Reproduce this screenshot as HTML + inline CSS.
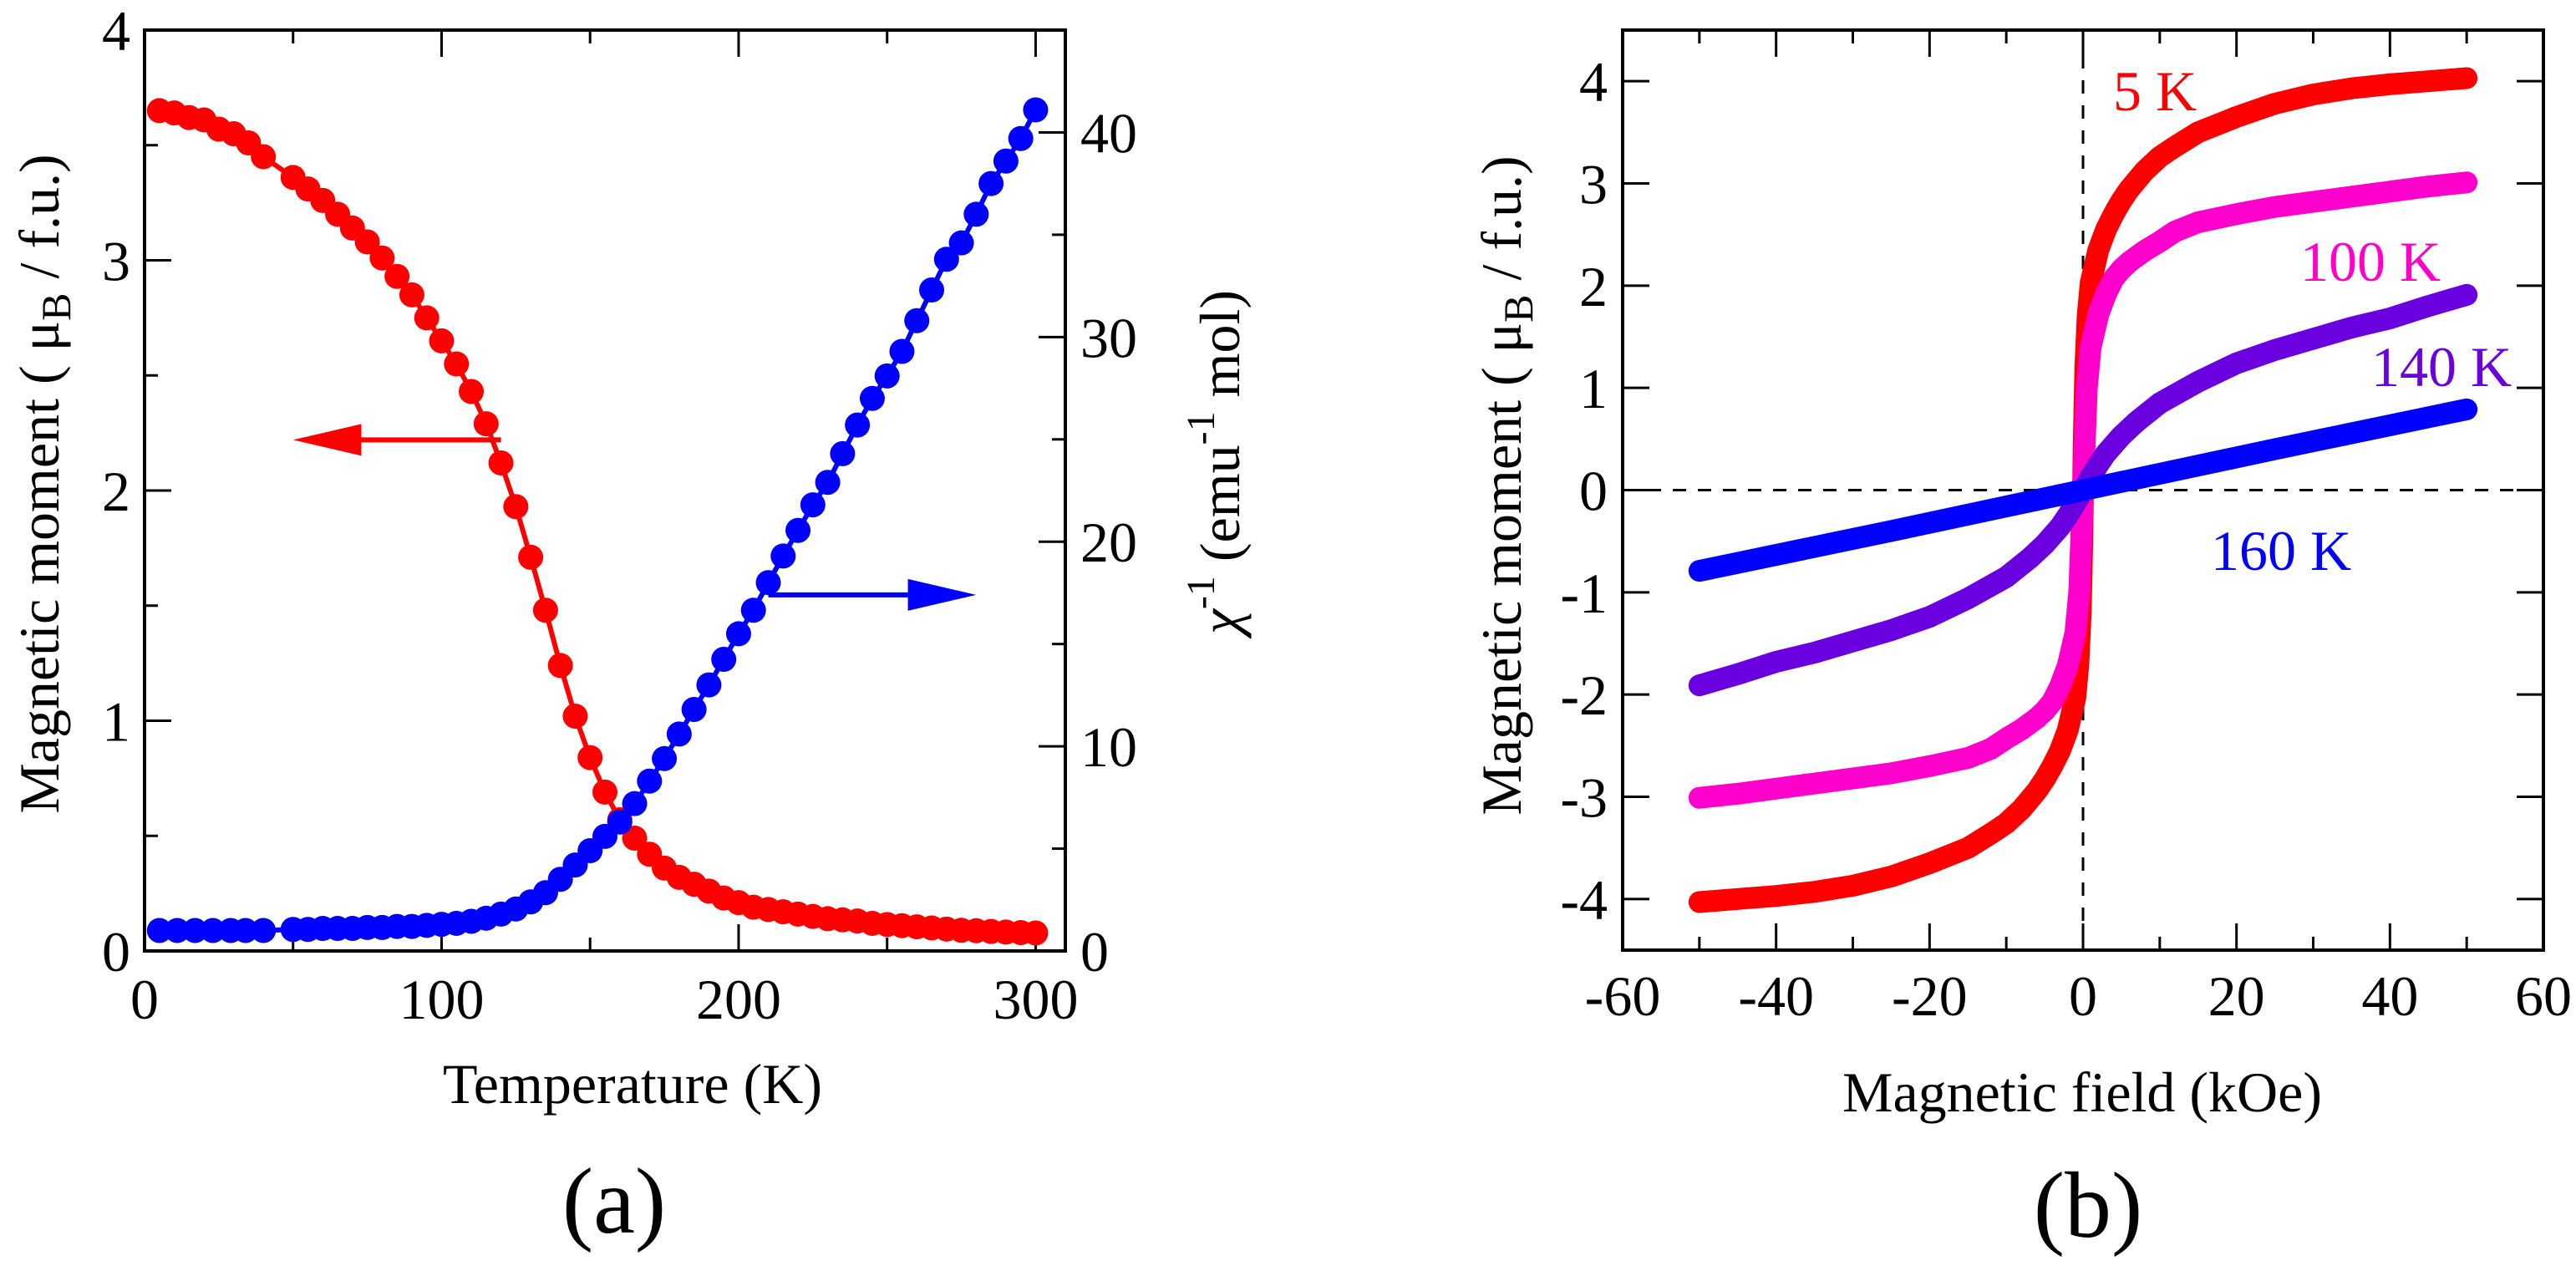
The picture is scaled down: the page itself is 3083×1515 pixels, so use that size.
<!DOCTYPE html>
<html><head><meta charset="utf-8"><style>
html,body{margin:0;padding:0;background:#fff}
svg{display:block}
svg text{font-family:"Liberation Serif","Times New Roman",serif}
</style></head><body>
<svg id="fig" width="3083" height="1515" viewBox="0 0 3083 1515" xmlns="http://www.w3.org/2000/svg" font-family="Liberation Serif, Times New Roman, serif">
<g id="pa"></g>
<g id="pb"></g>
</svg>
<script>
// ---------- Panel (a) data ----------
const tRed = [5,10,15,20,25,30,35,40,50,55,60,65,70,75,80,85,90,95,100,105,110,115,120,125,130,135,140,145,150,155,160,165,170,175,180,185,190,195,200,205,210,215,220,225,230,235,240,245,250,255,260,265,270,275,280,285,290,295,300];
const mRed = [3.65,3.64,3.62,3.61,3.57,3.55,3.51,3.45,3.36,3.31,3.26,3.20,3.14,3.08,3.01,2.93,2.85,2.75,2.65,2.55,2.43,2.29,2.12,1.93,1.71,1.48,1.24,1.02,0.84,0.69,0.57,0.49,0.42,0.36,0.32,0.29,0.26,0.23,0.21,0.19,0.18,0.17,0.16,0.15,0.14,0.135,0.13,0.12,0.115,0.11,0.105,0.10,0.095,0.09,0.088,0.085,0.082,0.08,0.078];
const tBlue = [5,11,17,23,29,34,40,50,55,60,65,70,75,80,85,90,95,100,105,110,115,120,125,130,135,140,145,150,155,160,165,170,175,180,185,190,195,200,205,210,215,220,225,230,235,240,245,250,255,260,265,270,275,280,285,290,295,300];
const chiBlue = [1.0,1.0,1.0,1.0,1.0,1.0,1.0,1.05,1.05,1.1,1.1,1.1,1.15,1.15,1.2,1.2,1.25,1.3,1.35,1.45,1.6,1.8,2.05,2.4,2.85,3.5,4.2,4.9,5.6,6.3,7.2,8.3,9.4,10.6,11.8,13.0,14.25,15.5,16.65,18.0,19.3,20.55,21.8,22.9,24.3,25.7,27.0,28.1,29.3,30.8,32.3,33.8,34.6,36.0,37.5,38.6,39.7,41.1];
const aXTicks = [0,100,200,300];
const aYTicks = [0,1,2,3,4];
const aY2Ticks = [0,10,20,30,40];

// ---------- Panel (b) data ----------
const h5 = [-50,-45,-40,-35,-30,-25,-20,-15,-12,-10,-8,-6,-5,-4,-3,-2,-1,-0.6,-0.3,-0.1,0,0.1,0.3,0.6,1,2,3,4,5,6,8,10,12,15,20,25,30,35,40,45,50];
const m5 = [-4.03,-4.0,-3.97,-3.93,-3.87,-3.78,-3.65,-3.5,-3.36,-3.26,-3.12,-2.94,-2.83,-2.7,-2.55,-2.35,-2.03,-1.7,-1.2,-0.5,0,0.5,1.2,1.7,2.03,2.35,2.55,2.7,2.83,2.94,3.12,3.26,3.36,3.5,3.65,3.78,3.87,3.93,3.97,4.0,4.03];
const h100 = [-50,-45,-40,-35,-30,-25,-20,-15,-12,-10,-8,-6,-5,-4,-3,-2,-1,-0.5,-0.2,0,0.2,0.5,1,2,3,4,5,6,8,10,12,15,20,25,30,35,40,45,50];
const m100 = [-3.01,-2.97,-2.92,-2.87,-2.82,-2.77,-2.70,-2.62,-2.53,-2.43,-2.34,-2.23,-2.16,-2.07,-1.92,-1.72,-1.4,-1.0,-0.4,0,0.4,1.0,1.4,1.72,1.92,2.07,2.16,2.23,2.34,2.43,2.53,2.62,2.70,2.77,2.82,2.87,2.92,2.97,3.01];
const h140 = [-50,-45,-40,-35,-30,-25,-20,-15,-10,-7,-5,-3,-2,-1,0,1,2,3,5,7,10,15,20,25,30,35,40,45,50];
const m140 = [-1.91,-1.80,-1.68,-1.59,-1.48,-1.37,-1.24,-1.06,-0.85,-0.67,-0.53,-0.36,-0.25,-0.13,0,0.13,0.25,0.36,0.53,0.67,0.85,1.06,1.24,1.37,1.48,1.59,1.68,1.80,1.91];
const h160 = [-50,-25,0,25,50];
const m160 = [-0.79,-0.40,0,0.40,0.79];
const bXTicks = [-60,-40,-20,0,20,40,60];
const bYTicks = [-4,-3,-2,-1,0,1,2,3,4];

const NS = "http://www.w3.org/2000/svg";
const FF = '"Liberation Serif","Times New Roman",serif';
function mk(parent, tag, attrs, txt){
  const e = document.createElementNS(NS, tag);
  for (const k in attrs) e.setAttribute(k, attrs[k]);
  if (tag === 'text') e.setAttribute('font-family', FF);
  if (txt !== undefined) e.textContent = txt;
  parent.appendChild(e);
  return e;
}

// ---------- Panel (a) ----------
(function(){
  const g = document.getElementById('pa');
  const L=173, R=1275, T=36, B=1138;
  const x = v => L + (v-0)/(310-0)*(R-L);
  const y = v => B - v/4*(B-T);
  const y2 = v => B - v/45*(B-T);

  for (let v=0; v<=310; v+=50){
    const len = (v%100===0)?32:16;
    const t1 = mk(g,'line',{x1:x(v),x2:x(v),y1:B,y2:B-len,stroke:'#000','stroke-width':3});
     
    const t2 = mk(g,'line',{x1:x(v),x2:x(v),y1:T,y2:T+len,stroke:'#000','stroke-width':3});
     
  }
  for (let v=0; v<=4; v+=0.5){
    const len = (v%1===0)?32:16;
    const t = mk(g,'line',{x1:L,x2:L+len,y1:y(v),y2:y(v),stroke:'#000','stroke-width':3});
     
  }
  for (let v=0; v<=45; v+=5){
    const len = (v%10===0)?32:16;
    const t = mk(g,'line',{x1:R,x2:R-len,y1:y2(v),y2:y2(v),stroke:'#000','stroke-width':3});
     
  }
  aXTicks.forEach(v=>{
    const t = mk(g,'text',{x:x(v),y:1219,'font-size':68,'text-anchor':'middle'},String(v));
     
  });
  aYTicks.forEach(v=>{
    const t = mk(g,'text',{x:156,y:y(v)+24,'font-size':68,'text-anchor':'end'},String(v));
     
  });
  aY2Ticks.forEach(v=>{
    const t = mk(g,'text',{x:1293,y:y2(v)+24,'font-size':68,'text-anchor':'start'},String(v));
     
  });

  const redLine = mk(g,'polyline',{points:tRed.map((t,i)=>x(t)+','+y(mRed[i])).join(' '),fill:'none',stroke:'#ff0000','stroke-width':6});
   
  tRed.forEach((t,i)=>{
    const c = mk(g,'circle',{cx:x(t),cy:y(mRed[i]),r:15,fill:'#ff0000'});
     
  });
  const blueLine = mk(g,'polyline',{points:tBlue.map((t,i)=>x(t)+','+y2(chiBlue[i])).join(' '),fill:'none',stroke:'#0000ff','stroke-width':6});
   
  tBlue.forEach((t,i)=>{
    const c = mk(g,'circle',{cx:x(t),cy:y2(chiBlue[i]),r:15,fill:'#0000ff'});
     
  });

  const ay = y(2.22);
  const ra = mk(g,'g',{});
   
  mk(ra,'line',{x1:x(120),x2:x(70),y1:ay,y2:ay,stroke:'#ff0000','stroke-width':6});
  mk(ra,'polygon',{points:`${x(50)},${ay} ${x(73)},${ay-19} ${x(73)},${ay+19}`,fill:'#ff0000'});
  const by = y2(17.4);
  const ba = mk(g,'g',{});
   
  mk(ba,'line',{x1:x(210),x2:x(260),y1:by,y2:by,stroke:'#0000ff','stroke-width':6});
  mk(ba,'polygon',{points:`${x(280)},${by} ${x(257)},${by-19} ${x(257)},${by+19}`,fill:'#0000ff'});

  const f = mk(g,'rect',{x:L,y:T,width:R-L,height:B-T,fill:'none',stroke:'#000','stroke-width':4});
   

  const xt = mk(g,'text',{x:757,y:1320,'font-size':68,'text-anchor':'middle'},'Temperature (K)');
   
  const yt = mk(g,'text',{transform:'translate(70,579) rotate(-90)','font-size':68,'text-anchor':'middle'});
   
  yt.innerHTML = 'Magnetic moment ( μ<tspan font-size="50" dy="14">B</tspan><tspan dy="-14"> / f.u.)</tspan>';
  const y2t = mk(g,'text',{transform:'translate(1483,553) rotate(-90)','font-size':68,'text-anchor':'middle'});
   
  y2t.innerHTML = '<tspan font-style="italic">χ</tspan><tspan font-size="48" dy="-30">-1</tspan><tspan dy="30"> (emu</tspan><tspan font-size="48" dy="-30">-1</tspan><tspan dy="30"> mol)</tspan>';
  const lab = mk(g,'text',{x:735,y:1475,'font-size':112,'text-anchor':'middle'},'(a)');
   
})();

// ---------- Panel (b) ----------
(function(){
  const g = document.getElementById('pb');
  const L=1942, R=3044, T=36, B=1137;
  const x = v => L + (v+60)/120*(R-L);
  const y = v => B - (v+4.5)/9*(B-T);

  for (let v=-60; v<=60; v+=10){
    const len = (v%20===0)?32:16;
    const t1 = mk(g,'line',{x1:x(v),x2:x(v),y1:B,y2:B-len,stroke:'#000','stroke-width':3});
     
    const t2 = mk(g,'line',{x1:x(v),x2:x(v),y1:T,y2:T+len,stroke:'#000','stroke-width':3});
     
  }
  bYTicks.forEach(v=>{
    const t1 = mk(g,'line',{x1:L,x2:L+32,y1:y(v),y2:y(v),stroke:'#000','stroke-width':3});
     
    const t2 = mk(g,'line',{x1:R,x2:R-32,y1:y(v),y2:y(v),stroke:'#000','stroke-width':3});
     
    const lb = mk(g,'text',{x:1924,y:y(v)+24,'font-size':68,'text-anchor':'end'},String(v));
     
  });
  bXTicks.forEach(v=>{
    const t = mk(g,'text',{x:x(v),y:1215,'font-size':68,'text-anchor':'middle'},String(v));
     
  });
  const dz1 = mk(g,'line',{x1:L,x2:R,y1:y(0),y2:y(0),stroke:'#000','stroke-width':3,'stroke-dasharray':'16,14'});
   
  const dz2 = mk(g,'line',{x1:x(0),x2:x(0),y1:T,y2:B,stroke:'#000','stroke-width':3,'stroke-dasharray':'16,14'});
   

  function curve(H,M,color,name){
    const p = mk(g,'polyline',{points:H.map((h,i)=>x(h)+','+y(M[i])).join(' '),fill:'none',stroke:color,'stroke-width':26,'stroke-linecap':'round','stroke-linejoin':'round'});
    
    
  }
  curve(h5,m5,'#ff0000','curve-5k');
  curve(h100,m100,'#ff00cc','curve-100k');
  curve(h140,m140,'#6a00e0','curve-140k');
  curve(h160,m160,'#0000ff','curve-160k');

  const f = mk(g,'rect',{x:L,y:T,width:R-L,height:B-T,fill:'none',stroke:'#000','stroke-width':4});
   

  const l1 = mk(g,'text',{x:2579,y:132,'font-size':68,'text-anchor':'middle',fill:'#ff0000'},'5 K');
   
  const l2 = mk(g,'text',{x:2837,y:336,'font-size':68,'text-anchor':'middle',fill:'#ff00cc'},'100 K');
   
  const l3 = mk(g,'text',{x:2922,y:462,'font-size':68,'text-anchor':'middle',fill:'#6a00e0'},'140 K');
   
  const l4 = mk(g,'text',{x:2730,y:682,'font-size':68,'text-anchor':'middle',fill:'#0000ff'},'160 K');
   

  const xt = mk(g,'text',{x:2492,y:1330,'font-size':68,'text-anchor':'middle'},'Magnetic field (kOe)');
   
  const yt = mk(g,'text',{transform:'translate(1820,581) rotate(-90)','font-size':68,'text-anchor':'middle'});
   
  yt.innerHTML = 'Magnetic moment ( μ<tspan font-size="50" dy="14">B</tspan><tspan dy="-14"> / f.u.)</tspan>';
  const lab = mk(g,'text',{x:2499,y:1480,'font-size':112,'text-anchor':'middle'},'(b)');
   
})();
</script>
</body></html>
